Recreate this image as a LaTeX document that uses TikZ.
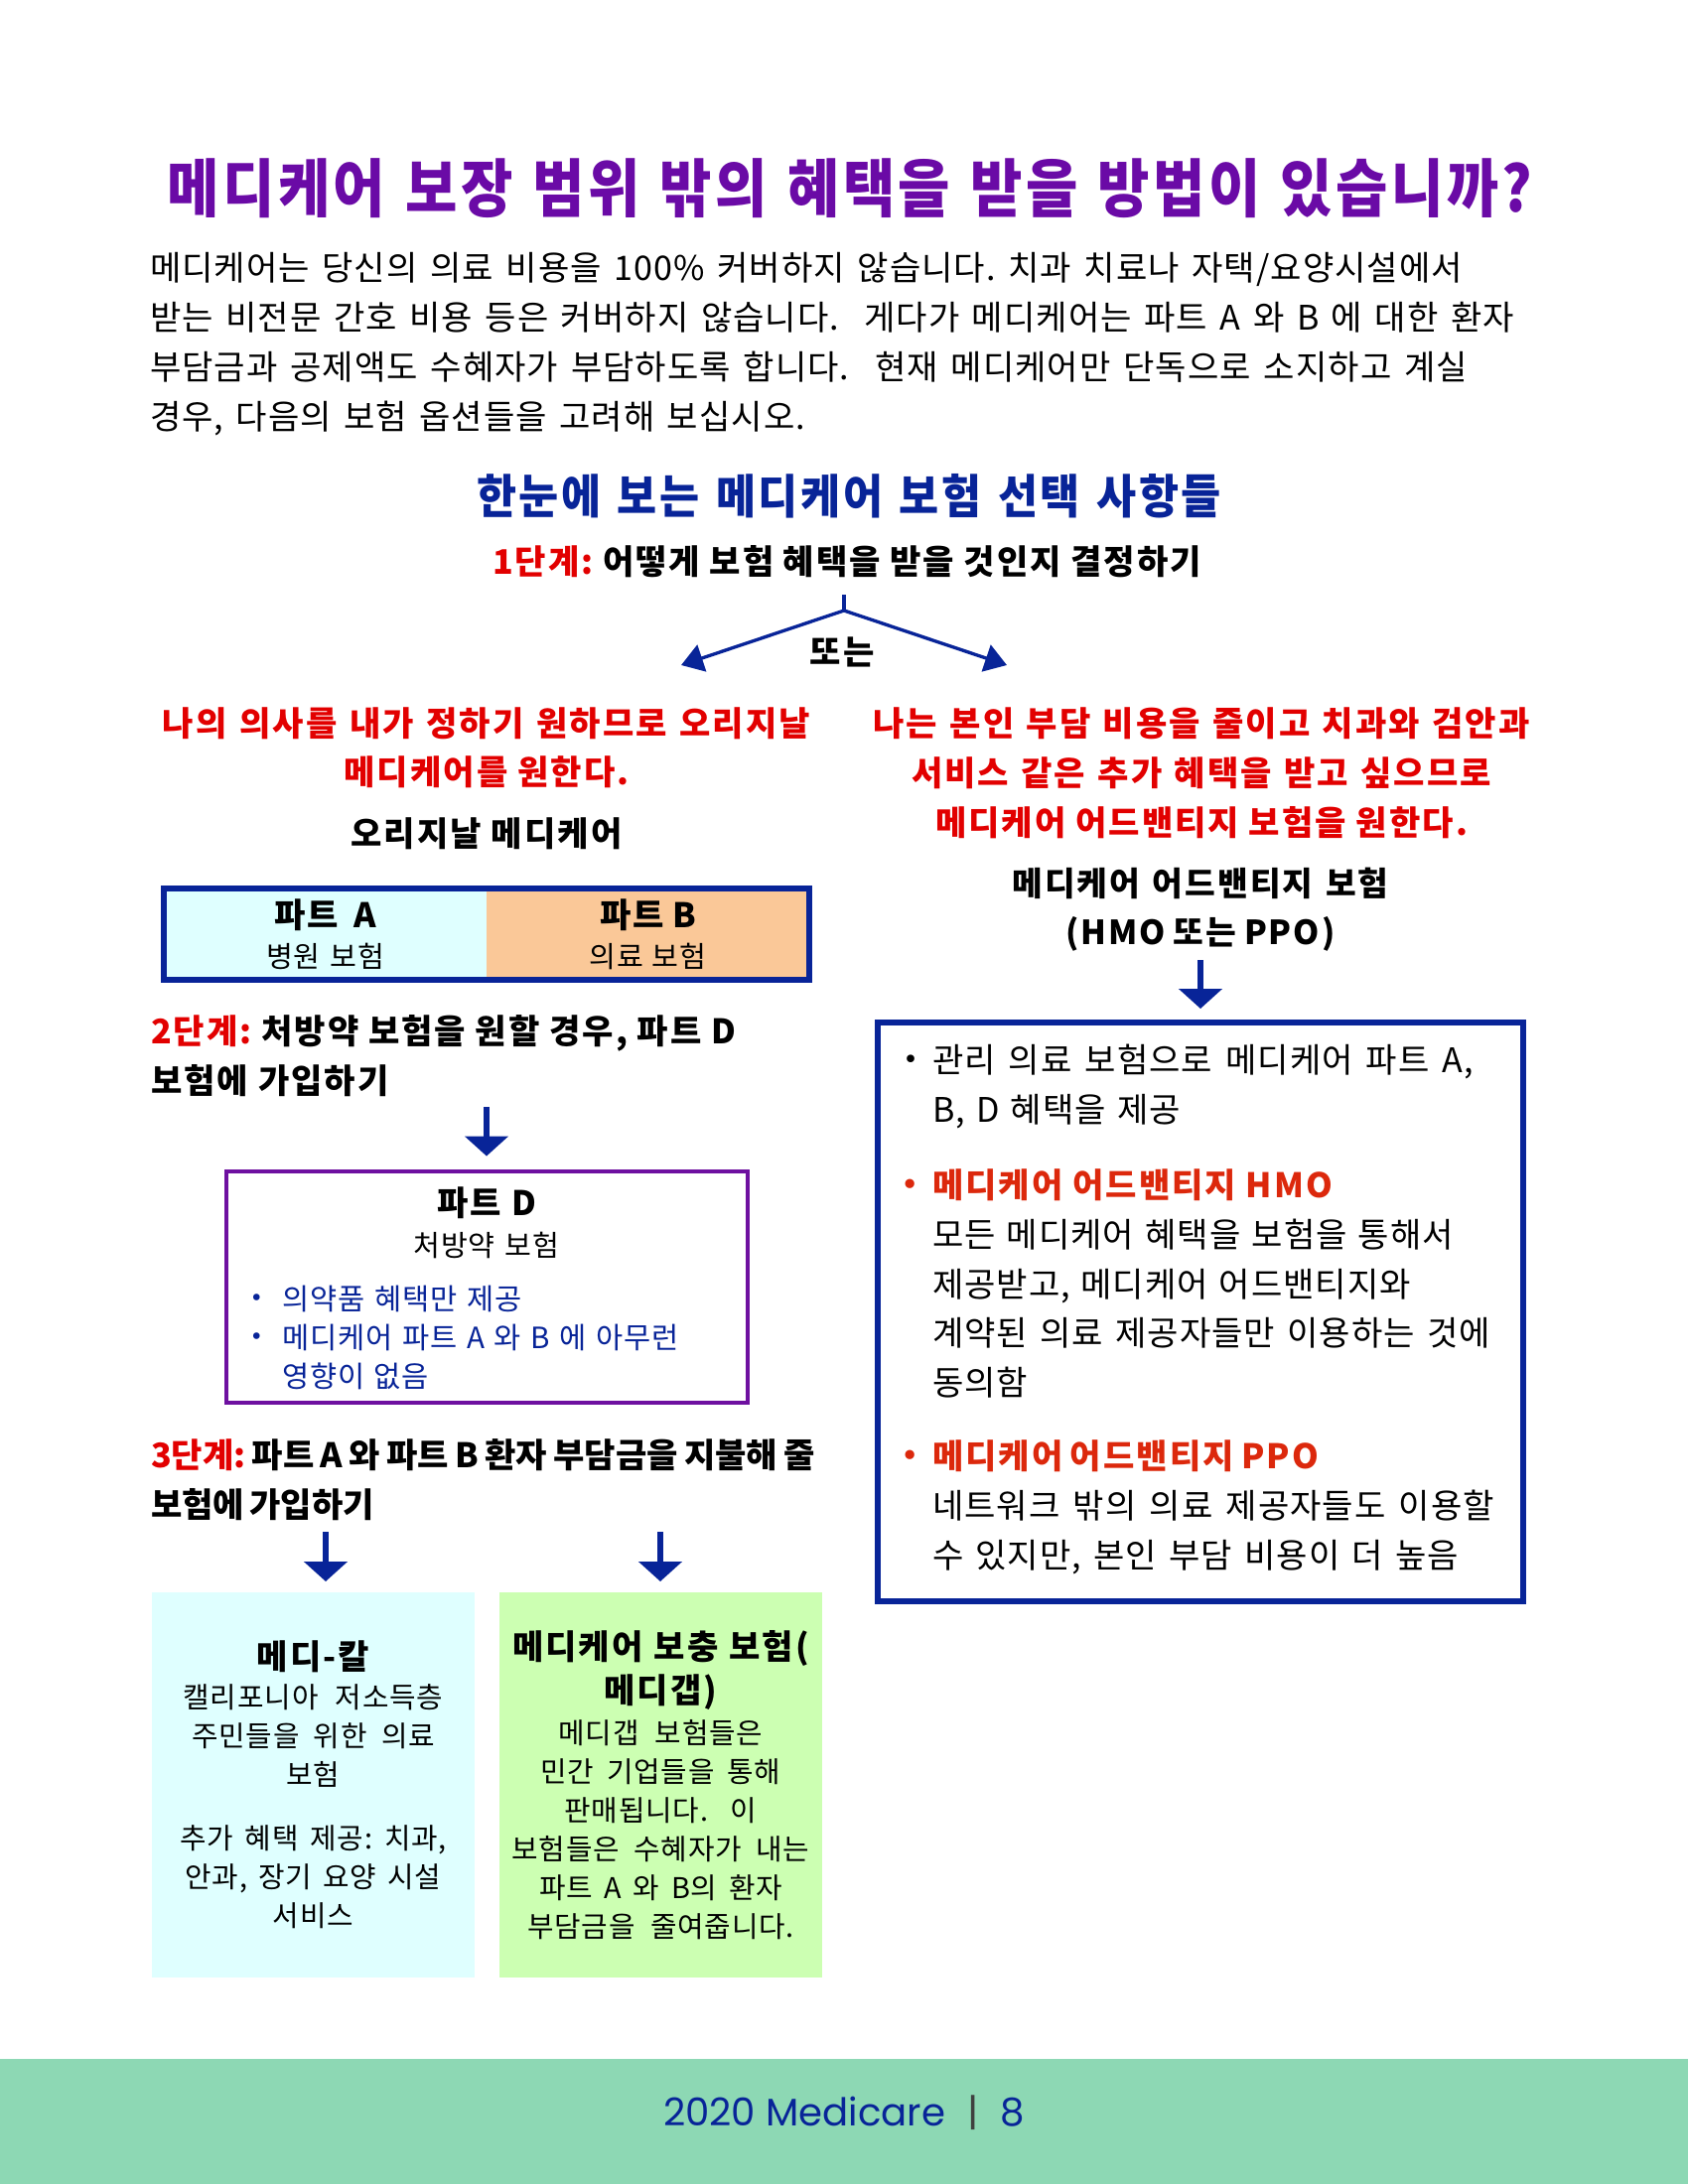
\documentclass[tikz,border=0pt]{standalone}
\usepackage{fontspec}
\setmainfont{Noto Sans CJK KR}[LetterSpace=3, BoldFeatures={LetterSpace=6}]
\newfontfamily\stepfont{Noto Sans CJK KR}
\newfontfamily\footfont{Poppins}
\newfontfamily\symfont{DejaVu Sans}
\usetikzlibrary{arrows.meta, positioning}
\frenchspacing

\definecolor{titlepurple}{RGB}{106,10,166}
\definecolor{planblue}{RGB}{8,36,152}
\definecolor{stepred}{RGB}{226,0,0}
\definecolor{hmored}{RGB}{220,40,12}
\definecolor{partdpurple}{RGB}{110,16,160}
\definecolor{lightcyan}{RGB}{223,255,255}
\definecolor{peach}{RGB}{250,200,152}
\definecolor{lightgreen}{RGB}{204,255,178}
\definecolor{footgreen}{RGB}{141,216,180}
\definecolor{bargray}{RGB}{64,64,64}

\newcommand{\stepno}[1]{\textcolor{stepred}{#1}}
% punto elenco piccolo, a sinistra del testo
\newcommand{\mabul}{\llap{\raisebox{1.2pt}{\symfont\fontsize{7.5}{6}\selectfont •}\hspace{0.142cm}}}
\newcommand{\dbul}{\llap{\raisebox{1.1pt}{\symfont\fontsize{6.5}{6}\selectfont •}\hspace{0.188cm}}}
% riga allargata alla larghezza dell'originale (solo se non troppo lunga)
\newlength{\fitnat}
\newcommand{\fitline}[2]{\settowidth{\fitnat}{#2}\ifdim\fitnat<\dimexpr#1+0.25cm\relax\makebox[#1][s]{#2}\else#2\fi}
\newcommand{\bodysize}{\fontsize{9.7}{14.2}\selectfont}
\newcommand{\smallsize}{\fontsize{8.2}{11.1}\selectfont}

\begin{document}
\begin{tikzpicture}[
	txt/.style={inner sep=0pt, outer sep=0pt},
	body/.style={txt, font=\bodysize},
	bodybold/.style={txt, font=\bodysize\bfseries},
	partcell/.style={txt, minimum width=3.25cm, minimum height=0.92cm, align=center, font=\fontsize{8.3}{11.4}\selectfont},
	planbox/.style={draw=planblue, line width=1.7pt},
	extrabox/.style={txt, minimum width=3.25cm, minimum height=3.88cm, align=center, font=\smallsize},
	downarrow/.style={draw=planblue, line width=1.7pt, -{Triangle[width=0.43cm, length=0.2cm]}},
	forkline/.style={draw=planblue, line width=0.95pt}
	]
	%%% Pagina
	\useasboundingbox[fill=white] (0,0) rectangle (17,-22);
	\fill[footgreen] (0,-20.74) rectangle (17,-22);
	
	%%% Titolo e introduzione
	\node[txt, font=\fontsize{16.2}{20}\selectfont\bfseries, text=titlepurple] (title) at (8.56,-1.90) {\scalebox{1}[1.12]{\fitline{13.75cm}{메디케어 보장 범위 밖의 혜택을 받을 방법이 있습니까?}}};
	\node[body, anchor=west, align=left] (intro) at (1.51,-3.465) {\fitline{13.22cm}{메디케어는 당신의 의료 비용을 100\% 커버하지 않습니다. 치과 치료나 자택/요양시설에서}\\
		\fitline{13.74cm}{받는 비전문 간호 비용 등은 커버하지 않습니다.~ 게다가 메디케어는 파트 A 와 B 에 대한 환자}\\
		\fitline{13.27cm}{부담금과 공제액도 수혜자가 부담하도록 합니다.~ 현재 메디케어만 단독으로 소지하고 계실}\\
		\fitline{6.60cm}{경우, 다음의 보험 옵션들을 고려해 보십시오.}};
	\node[txt, font=\fontsize{12.4}{15}\selectfont\bfseries, text=planblue] (glance) at (8.55,-5.00) {\scalebox{1}[1.08]{\fitline{7.50cm}{한눈에 보는 메디케어 보험 선택 사항들}}};
	\node[bodybold] (step1) at (8.53,-5.66) {\fitline{7.14cm}{\stepno{1단계:} 어떻게 보험 혜택을 받을 것인지 결정하기}};
	
	%%% Forcella
	\coordinate (forktop) at (8.5,-5.99);
	\coordinate (fork) at (8.5,-6.15);
	\coordinate (forkL) at (6.86,-6.70);
	\coordinate (forkR) at (10.14,-6.70);
	\draw[forkline] (forktop) -- (fork);
	\draw[forkline, {Triangle[width=0.28cm, length=0.22cm]}-{Triangle[width=0.28cm, length=0.22cm]}] (forkL) -- (fork) -- (forkR);
	\node[bodybold] (or) at (8.48,-6.57) {또는};
	
	%%% Lato sinistro: Original Medicare
	\node[bodybold, text=stepred, align=center, font=\fontsize{9.7}{14}\selectfont\bfseries] (wantorig) at (4.90,-7.53) {\fitline{6.52cm}{나의 의사를 내가 정하기 원하므로 오리지날}\\메디케어를 원한다.};
	\node[bodybold] (orig) at (4.90,-8.40) {\fitline{2.73cm}{오리지날 메디케어}};
	\node[partcell, fill=lightcyan] (partA) at (3.275,-9.41) {{\bfseries\fontsize{9.7}{11.4}\selectfont \fitline{1.03cm}{파트 A}}\\\fitline{1.19cm}{병원 보험}};
	\node[partcell, fill=peach, right=0pt of partA] (partB) {{\bfseries\fontsize{9.7}{11.4}\selectfont \fitline{0.97cm}{파트 B}}\\\fitline{1.18cm}{의료 보험}};
	\draw[planbox] (partA.north west) rectangle (partB.south east);
	
	\node[bodybold, anchor=west, align=left] (step2) at (1.52,-10.64) {\fitline{5.89cm}{\stepno{2단계:} 처방약 보험을 원할 경우, 파트 D}\\보험에 가입하기};
	\node[draw=partdpurple, line width=1.4pt, minimum width=5.25cm, minimum height=2.33cm] (partD) at (4.905,-12.965) {};
	\node[txt, align=center, font=\fontsize{8.3}{11.6}\selectfont] (partDtitle) at (4.90,-12.315) {{\bfseries\fontsize{9.7}{11.6}\selectfont \fitline{1.00cm}{파트 D}}\\\fitline{1.47cm}{처방약 보험}};
	\node[txt, anchor=west, align=left, text=planblue, font=\fontsize{8.4}{11.1}\selectfont] (partDlist) at (2.84,-13.47) {\fitline{2.42cm}{\dbul 의약품 혜택만 제공}\\
		\fitline{4.00cm}{\dbul 메디케어 파트 A 와 B 에 아무런}\\
		\fitline{1.48cm}{영향이 없음}};
	\coordinate (a2) at (4.90,-11.15);
	\draw[downarrow, shorten >=0.13cm] (a2) -- (a2 |- partD.north);
	
	\node[txt, anchor=west, align=left, font=\bodysize\stepfont\bfseries] (step3) at (1.52,-14.91) {\fitline{6.69cm}{\stepno{3단계:} 파트 A 와 파트 B 환자 부담금을 지불해 줄}\\\fitline{2.19cm}{보험에 가입하기}};
	\node[extrabox, fill=lightcyan] (medical) at (3.155,-17.98) {{\bfseries\fontsize{9.7}{11.1}\selectfont 메디-칼}\\
		\fitline{2.62cm}{캘리포니아 저소득층}\\
		\fitline{2.45cm}{주민들을 위한 의료}\\
		보험\\[0.25cm]
		\fitline{2.69cm}{추가 혜택 제공: 치과,}\\
		\fitline{2.58cm}{안과, 장기 요양 시설}\\
		서비스};
	\node[extrabox, fill=lightgreen, right=0.25cm of medical] (medigap) {{\bfseries\fontsize{9.7}{11.1}\selectfont \fitline{2.99cm}{메디케어 보충 보험(}}\\[0.05cm]
		{\bfseries\fontsize{9.7}{11.1}\selectfont 메디갭)}\\[0.02cm]
		\fitline{2.06cm}{메디갭 보험들은}\\
		\fitline{2.42cm}{민간 기업들을 통해}\\
		\fitline{1.94cm}{판매됩니다.~ 이}\\
		\fitline{3.00cm}{보험들은 수혜자가 내는}\\
		\fitline{2.45cm}{파트 A 와 B의 환자}\\
		\fitline{2.69cm}{부담금을 줄여줍니다.}};
	\coordinate (a3L) at (3.28,-15.43);
	\coordinate (a3R) at (6.65,-15.43);
	\draw[downarrow, shorten >=0.11cm] (a3L) -- (a3L |- medical.north);
	\draw[downarrow, shorten >=0.11cm] (a3R) -- (a3R |- medigap.north);
	
	%%% Lato destro: Medicare Advantage
	\node[bodybold, text=stepred, align=center] (wantma) at (12.10,-7.79) {\fitline{6.61cm}{나는 본인 부담 비용을 줄이고 치과와 검안과}\\
		\fitline{5.84cm}{서비스 같은 추가 혜택을 받고 싶으므로}\\
		\fitline{5.36cm}{메디케어 어드밴티지 보험을 원한다.}};
	\node[txt, align=center, font=\fontsize{9.5}{14}\selectfont\bfseries] (maname) at (12.09,-9.165) {\fitline{3.79cm}{메디케어 어드밴티지 보험}\\\fitline{2.71cm}{(HMO 또는 PPO)}};
	\node[planbox, minimum width=6.50cm, minimum height=5.83cm] (mabox) at (12.09,-13.215) {};
	\coordinate (a4) at (12.09,-9.67);
	\draw[downarrow, shorten >=0.11cm] (a4) -- (a4 |- mabox.north);
	
	\node[body, anchor=west, align=left] (maplan) at (9.39,-10.945) {\fitline{5.45cm}{\mabul 관리 의료 보험으로 메디케어 파트 A,}\\
		\fitline{2.50cm}{B, D 혜택을 제공}};
	\node[body, anchor=west, align=left] (mahmo) at (9.39,-12.93) {\fitline{4.03cm}{\textcolor{hmored}{\bfseries\mabul 메디케어 어드밴티지 HMO}}\\
		\fitline{5.25cm}{모든 메디케어 혜택을 보험을 통해서}\\
		\fitline{4.82cm}{제공받고, 메디케어 어드밴티지와}\\
		\fitline{5.62cm}{계약된 의료 제공자들만 이용하는 것에}\\
		동의함};
	\node[body, anchor=west, align=left] (mappo) at (9.39,-15.18) {\fitline{3.89cm}{\textcolor{hmored}{\bfseries\mabul 메디케어 어드밴티지 PPO}}\\
		\fitline{5.66cm}{네트워크 밖의 의료 제공자들도 이용할}\\
		\fitline{5.30cm}{수 있지만, 본인 부담 비용이 더 높음}};
	
	%%% Piede
	\node[txt, font=\footfont\fontsize{11}{13}\selectfont, text=planblue] (foot) at (8.5,-21.28) {2020 Medicare\hspace{0.22cm}\textcolor{bargray}{|}\hspace{0.22cm}8};
\end{tikzpicture}
\end{document}
